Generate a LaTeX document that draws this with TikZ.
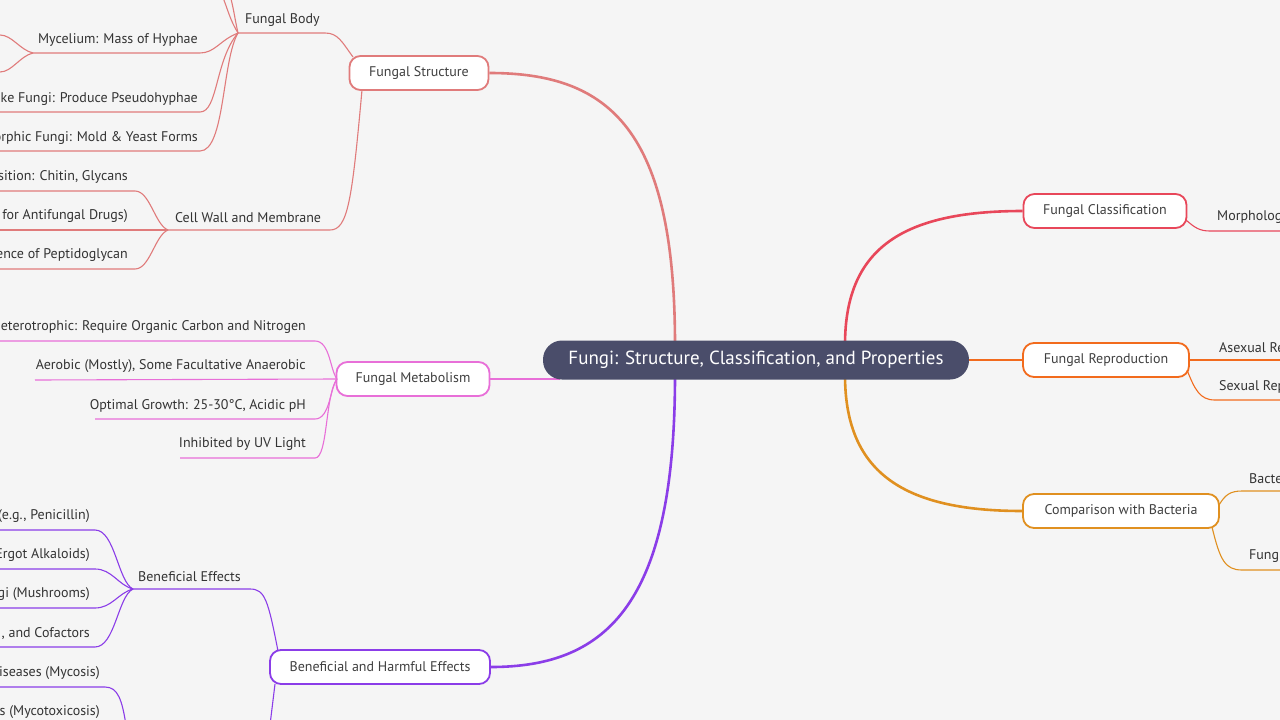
\documentclass[tikz,border=0pt]{standalone}
\usepackage{fontspec}
\setmainfont{PT Sans}
\begin{document}
\begin{tikzpicture}[x=1pt,y=-1pt,
  box/.style={draw,line width=1.8pt,rounded corners=11pt,fill=white,text=black!75,font=\fontsize{14}{16}\selectfont,minimum height=34pt,inner xsep=17pt},
  lbl/.style={text=black!80,font=\fontsize{14}{16}\selectfont,inner sep=0pt},
  main/.style={line width=2.6pt},
  sub/.style={line width=1.1pt}]
\useasboundingbox (0,0) rectangle (1280,720);
\fill[black!4] (0,0) rectangle (1280,720);
\clip (0,0) rectangle (1280,720);
\definecolor{cS}{HTML}{E07B7B}\definecolor{cM}{HTML}{E86FD8}\definecolor{cB}{HTML}{8B3DE8}
\definecolor{cC}{HTML}{E8475A}\definecolor{cR}{HTML}{F26B1D}\definecolor{cK}{HTML}{E09020}
\definecolor{cN}{HTML}{4A4D6A}
\node[box,draw=cS,minimum width=139pt] (fs) at (419,73) {Fungal Structure};
\node[box,draw=cM,minimum width=153pt] (fm) at (413,379) {Fungal Metabolism};
\node[box,draw=cB,minimum width=220pt] (fb) at (380,667) {Beneficial and Harmful Effects};
\node[box,draw=cC,minimum width=163pt] (fc) at (1105,211) {Fungal Classification};
\node[box,draw=cR,minimum width=166pt] (fr) at (1106,360) {Fungal Reproduction};
\node[box,draw=cK,minimum width=196pt] (fk) at (1121,511) {Comparison with Bacteria};
\draw[main,cS] (675,345) .. controls (675,130) and (610,73) .. (fs.east);
\draw[main,cM] (560,379) -- (fm.east);
\draw[main,cB] (675,375) .. controls (675,600) and (610,667) .. (fb.east);
\draw[main,cC] (845,345) .. controls (845,250) and (900,211) .. (fc.west);
\draw[main,cR] (845,360) -- (fr.west);
\draw[main,cK] (845,375) .. controls (845,470) and (900,511) .. (fk.west);
\node[fill=cN,rounded corners=19pt,minimum width=426pt,minimum height=39pt,text=white,font=\fontsize{19}{21}\selectfont] (c) at (756,360) {Fungi: Structure, Classification, and Properties};
% Fungal structure subtopics
\coordinate (fbj) at (238,33);\coordinate (cwj) at (168,230);
\draw[sub,cS] (353,57) .. controls (342,42) and (338,33) .. (325,33) -- (fbj);
\draw[sub,cS] (362,90) .. controls (352,200) and (348,230) .. (330,230) -- (cwj);
\node[lbl,anchor=south west] (t1) at (245,27) {Fungal Body};
\node[lbl,anchor=south west] (t2) at (175,223) {Cell Wall and Membrane};
\draw[sub,cS] (fbj) .. controls (230,20) and (228,10) .. (222,-5);
\draw[sub,cS] (fbj) .. controls (235,20) and (234,10) .. (230,-5);
\draw[sub,cS] (fbj) .. controls (220,40) and (215,53) .. (200,53) -- (33,53);
\draw[sub,cS] (fbj) .. controls (215,60) and (218,112) .. (200,112) -- (0,112);
\draw[sub,cS] (fbj) .. controls (222,60) and (225,151) .. (200,151) -- (0,151);
\draw[sub,cS] (33,53) .. controls (20,50) and (12,35) .. (0,35);
\draw[sub,cS] (33,53) .. controls (20,56) and (12,72) .. (0,72);
\node[lbl,anchor=south east] at (198,47) {Mycelium: Mass of Hyphae};
\node[lbl,anchor=south east] at (198,106) {ke Fungi: Produce Pseudohyphae};
\node[lbl,anchor=south east] at (198,145) {orphic Fungi: Mold \& Yeast Forms};
\draw[sub,cS] (cwj) .. controls (155,225) and (150,191) .. (135,191) -- (0,191);
\draw[sub,cS] (cwj) -- (0,230);
\draw[sub,cS] (cwj) .. controls (155,235) and (150,269) .. (135,269) -- (0,269);
\node[lbl,anchor=south east] at (128,184) {sition: Chitin, Glycans};
\node[lbl,anchor=south east] at (128,223) {t for Antifungal Drugs)};
\node[lbl,anchor=south east] at (128,262) {ence of Peptidoglycan};
% Metabolism
\coordinate (mj) at (337,379);
\draw[sub,cM] (mj) .. controls (330,370) and (330,341) .. (315,341) -- (0,341);
\draw[sub,cM] (mj) -- (35,380);
\draw[sub,cM] (mj) .. controls (330,388) and (330,419) .. (315,419) -- (95,419);
\draw[sub,cM] (mj) .. controls (325,395) and (328,458) .. (315,458) -- (180,458);
\node[lbl,anchor=south east] at (306,334) {eterotrophic: Require Organic Carbon and Nitrogen};
\node[lbl,anchor=south east] at (306,373) {Aerobic (Mostly), Some Facultative Anaerobic};
\node[lbl,anchor=south east] at (306,412) {Optimal Growth: 25-30°C, Acidic pH};
\node[lbl,anchor=south east] at (306,451) {Inhibited by UV Light};
% Beneficial/harmful
\coordinate (bj) at (133,589);
\draw[sub,cB] (278,651) .. controls (268,600) and (265,589) .. (250,589) -- (bj);
\draw[sub,cB] (275,684) -- (270,725);
\node[lbl,anchor=south west] at (138,582) {Beneficial Effects};
\draw[sub,cB] (bj) .. controls (118,582) and (115,530) .. (95,530) -- (0,530);
\draw[sub,cB] (bj) .. controls (118,585) and (112,569) .. (95,569) -- (0,569);
\draw[sub,cB] (bj) .. controls (118,593) and (112,608) .. (95,608) -- (0,608);
\draw[sub,cB] (bj) .. controls (118,596) and (115,647) .. (95,647) -- (0,647);
\node[lbl,anchor=south east] at (90,523) {(e.g., Penicillin)};
\node[lbl,anchor=south east] at (90,562) {Ergot Alkaloids)};
\node[lbl,anchor=south east] at (90,601) {gi (Mushrooms)};
\node[lbl,anchor=south east] at (90,640) {, and Cofactors};
\draw[sub,cB] (0,687) -- (105,687) .. controls (118,687) and (122,700) .. (126,725);
\node[lbl,anchor=south east] at (100,680) {iseases (Mycosis)};
\node[lbl,anchor=south east] at (100,719) {s (Mycotoxicosis)};
% Right side
\draw[sub,cC] (1186,220) .. controls (1195,228) and (1200,231) .. (1210,231) -- (1285,231);
\node[lbl,anchor=south west] at (1217,224) {Morpholog};
\draw[sub,cR] (fr.east) -- (1285,360);
\node[lbl,anchor=south west] at (1219,353) {Asexual Re};
\draw[sub,cR] (1187,370) .. controls (1195,390) and (1200,400) .. (1215,400) -- (1285,400);
\node[lbl,anchor=south west] at (1219,393) {Sexual Rep};
\draw[sub,cK] (1219,505) .. controls (1225,495) and (1230,491) .. (1242,491) -- (1285,491);
\node[lbl,anchor=south west] at (1249,484) {Bacte};
\draw[sub,cK] (1212,527) .. controls (1220,560) and (1225,570) .. (1242,570) -- (1285,570);
\node[lbl,anchor=south west] at (1249,563) {Fung};
\end{tikzpicture}
\end{document}
